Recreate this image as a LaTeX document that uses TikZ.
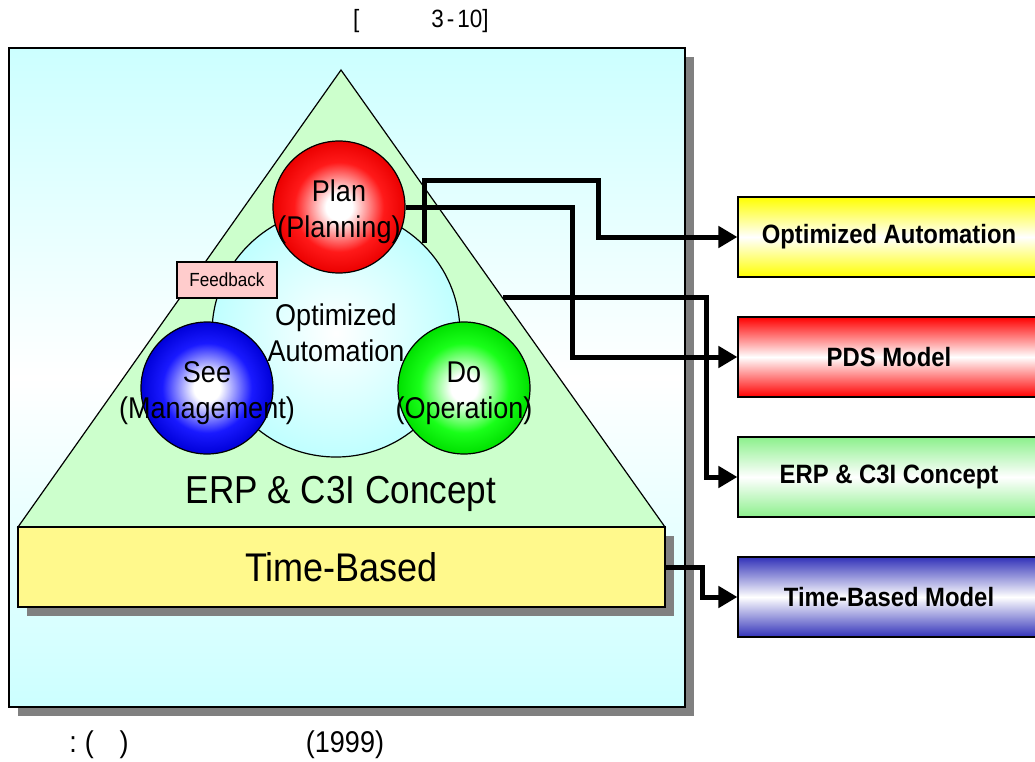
\documentclass[tikz,border=0pt]{standalone}
\usepackage{fontspec}
\setmainfont[FakeStretch=0.9]{Liberation Sans}
\usetikzlibrary{arrows.meta,shadows}
\definecolor{modelgreen}{RGB}{140,240,140}
\definecolor{modelblue}{RGB}{50,50,185}
\pgfdeclareradialshading{redball}{\pgfpoint{0bp}{0bp}}{color(0bp)=(white); color(5bp)=(white); color(17bp)=(red!90!white); color(25bp)=(red!92!black); color(50bp)=(red!92!black)}
\pgfdeclareradialshading{blueball}{\pgfpoint{0bp}{0bp}}{color(0bp)=(white); color(5bp)=(white); color(17bp)=(blue!90!white); color(25bp)=(blue!85!black); color(50bp)=(blue!85!black)}
\pgfdeclareradialshading{greenball}{\pgfpoint{0bp}{0bp}}{color(0bp)=(white); color(5bp)=(white); color(17bp)=(green!90!white); color(25bp)=(green!88!black); color(50bp)=(green!88!black)}
\begin{document}
\begin{tikzpicture}[x=1pt,y=-1pt,
  box/.style={draw,line width=1.2pt,inner sep=0pt},
  boxshadow/.style={drop shadow={shadow xshift=9pt,shadow yshift=-9pt,fill=black!50,opacity=1}},
  ball/.style={circle,draw,line width=1.2pt,minimum size=132pt,inner sep=0pt,shade,shading=#1},
  balltext/.style={font=\fontsize{30}{36}\selectfont,align=center,inner sep=0pt},
  model/.style={box,minimum width=302pt,minimum height=80pt,font=\bfseries\fontsize{26.5}{30}\selectfont},
  link/.style={line width=5pt,-{Triangle[length=19pt,width=21pt]}}]
\useasboundingbox (0,0) rectangle (1035,761);
\node[box,boxshadow,minimum width=676pt,minimum height=659pt,top color=cyan!20,bottom color=cyan!20,middle color=white] (panel) at (347,377.5) {};
\draw[fill=green!20,line width=1.2pt] (341,70) -- (18,527) -- (665,527) -- cycle;
\node[box,boxshadow,fill=yellow!45,minimum width=647pt,minimum height=80pt,font=\fontsize{40}{42}\selectfont] (tb) at (341.5,567) {Time-Based};
\node[font=\fontsize{39}{42}\selectfont] (concept) at (341,494) {ERP \& C3I Concept};
\node[circle,draw,line width=1.2pt,minimum size=248pt,inner color=white,outer color=cyan!25] (core) at (336,333) {};
\node[balltext] (corelbl) at (core) {Optimized\\Automation};
\node[ball=redball] (plan) at (339,207) {};
\node[ball=blueball] (see) at (207,388) {};
\node[ball=greenball] (do) at (464,388) {};
\node[balltext,yshift=-5pt] (planlbl) at (plan) {Plan\\(Planning)};
\node[balltext,yshift=-5pt] (seelbl) at (see) {See\\(Management)};
\node[balltext,yshift=-5pt] (dolbl) at (do) {Do\\(Operation)};
\node[box,fill=red!20,minimum width=100pt,minimum height=36pt,font=\fontsize{19}{20}\selectfont] (fb) at (227,280) {Feedback};
\node[model,top color=yellow,bottom color=yellow,middle color=white] (oa) at (889,237) {Optimized Automation};
\node[model,top color=red,bottom color=red,middle color=white] (pds) at (889,357) {PDS Model};
\node[model,top color=modelgreen,bottom color=modelgreen,middle color=white] (erp) at (889,477) {ERP \& C3I Concept};
\node[model,top color=modelblue,bottom color=modelblue,middle color=white] (tbm) at (889,597) {Time-Based Model};
\coordinate (planfoot) at (424,243);
\coordinate (edge) at (503,297);
\draw[link] (planfoot) |- (598,180) |- (oa.west);
\draw[link] (plan.east) -- (572,207) |- (pds.west);
\draw[link] (edge) -- (706,297) |- (erp.west);
\draw[link] (tb.east) -- (702,567) |- (tbm.west);
\node[font=\fontsize{25}{28}\selectfont] (title) at (421,21) {[\hspace{72pt}3\kern3pt-\kern3pt10]};
\node[font=\fontsize{30}{32}\selectfont] (src) at (99,745) {:\kern8pt(\hspace{26pt})};
\node[font=\fontsize{30}{32}\selectfont] (year) at (345,745) {(1999)};
\end{tikzpicture}
\end{document}
